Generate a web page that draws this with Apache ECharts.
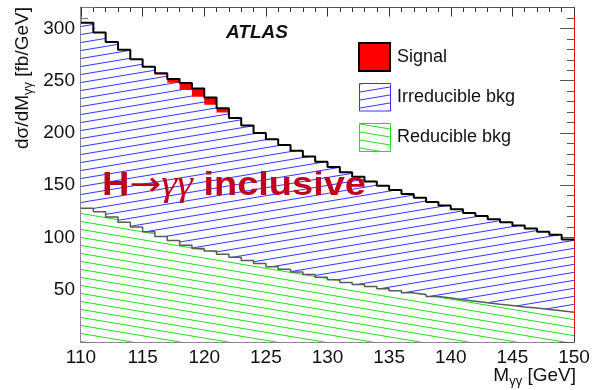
<!DOCTYPE html>
<html>
<head>
<meta charset="utf-8">
<script src="https://cdn.jsdelivr.net/npm/echarts@6/dist/echarts.min.js"></script>
<style>
  html, body { margin: 0; padding: 0; background: #ffffff; }
  #chart { width: 593px; height: 390px; }
</style>
</head>
<body>
<div id="chart"></div>
<script>
// Lower bin edges of the diphoton mass histogram [GeV], 1 GeV bins
const massLow = [110, 111, 112, 113, 114, 115, 116, 117, 118, 119,
                 120, 121, 122, 123, 124, 125, 126, 127, 128, 129,
                 130, 131, 132, 133, 134, 135, 136, 137, 138, 139,
                 140, 141, 142, 143, 144, 145, 146, 147, 148, 149];
const massHigh = 150;

// dsigma/dM per bin [fb/GeV]
const reducibleBkg = [128, 124.5, 119.5, 114.5, 110, 105.5, 101, 97, 92.5, 89.5,
                      87, 84, 81, 78, 75, 72, 69.5, 67, 64.5, 62,
                      59.5, 57, 55, 53, 51, 49, 47, 45.5, 43.5, 42,
                      40.5, 39, 37.5, 36, 35, 33.5, 32.5, 31, 30, 28.5];
const irreducibleBkg = [177.5, 171.5, 167.5, 165, 160.5, 157.5, 155, 151, 148.5, 145,
                        140, 135.5, 132.5, 129, 125, 122, 119, 116, 113, 110.5,
                        108, 105.5, 103, 100.5, 98.5, 96.5, 94.5, 92.5, 90.5, 88.5,
                        86.5, 84.5, 83, 81.5, 79.5, 78, 76, 74.5, 72.5, 69.5];
const signal = [0, 0, 0, 0, 0, 0.3, 1.2, 3.6, 6.7, 8,
                7, 4.2, 0.7, 0, 0, 0, 0, 0, 0, 0,
                0, 0, 0, 0, 0, 0, 0, 0, 0, 0,
                0, 0, 0, 0, 0, 0, 0, 0, 0, 0];

// Axis ticks
const xTicks = [110, 115, 120, 125, 130, 135, 140, 145, 150];
const yTicks = [50, 100, 150, 200, 250, 300];

const FONT = 'Liberation Sans, Arial, sans-serif';

// Stacked sums: reducible, + irreducible, + signal
const bkgSum = reducibleBkg.map((v, i) => v + irreducibleBkg[i]);
const totalSum = bkgSum.map((v, i) => v + signal[i]);

// Histogram as step points: each bin starts at its lower edge, last value held to the upper edge
function histPoints(values) {
  const pts = massLow.map((x, i) => [x, values[i]]);
  pts.push([massHigh, values[values.length - 1]]);
  return pts;
}

// Seamless hatch tile; dir > 0: lines rising to the right, dir < 0: falling
function hatchTile(color, dir) {
  const W = 48, H = 8;
  const c = document.createElement('canvas');
  c.width = W; c.height = H;
  const g = c.getContext('2d');
  g.fillStyle = '#ffffff';
  g.fillRect(0, 0, W, H);
  g.strokeStyle = color;
  g.lineWidth = 1;
  for (let k = -1; k <= 1; k++) {
    g.beginPath();
    if (dir > 0) { g.moveTo(0, H + k * H); g.lineTo(W, k * H); }
    else { g.moveTo(0, k * H); g.lineTo(W, H + k * H); }
    g.stroke();
  }
  return { image: c, repeat: 'repeat' };
}

const blueHatch = hatchTile('#3434ff', 1);
const greenHatch = hatchTile('#22dd22', -1);

const chart = echarts.init(document.getElementById('chart'), null, { renderer: 'canvas' });

const xBase = {
  type: 'value', min: 110, max: 150, interval: 5,
  splitLine: { show: false },
  axisTick: { inside: true, length: 9, lineStyle: { color: '#333', width: 1 } },
  minorTick: { show: true, splitNumber: 5, length: 4.5, lineStyle: { color: '#333', width: 1 } }
};
const yBase = {
  type: 'value', min: 0, max: 320,
  splitLine: { show: false },
  axisLabel: { show: false }
};

function histSeries(name, values, z, lineStyle, areaColor) {
  const s = {
    name: name, type: 'line', step: 'end', xAxisIndex: 0, yAxisIndex: 0, z: z,
    symbol: 'none', data: histPoints(values), lineStyle: lineStyle,
    emphasis: { disabled: true }, silent: true
  };
  if (areaColor) s.areaStyle = { color: areaColor, opacity: 1 };
  return s;
}

chart.setOption({
  animation: false,
  backgroundColor: '#ffffff',
  grid: { left: 81, right: 19, top: 7.5, bottom: 48, containLabel: false, outerBoundsMode: 'none' },
  xAxis: [
    Object.assign({}, xBase, {
      position: 'bottom',
      axisLine: { onZero: false, lineStyle: { color: '#8a8a8a', width: 2 } },
      axisLabel: {
        fontSize: 19, color: '#111', margin: 6, fontFamily: FONT,
        formatter: v => (xTicks.indexOf(v) >= 0 ? String(v) : '')
      }
    }),
    Object.assign({}, xBase, {
      position: 'top',
      axisLine: { onZero: false, lineStyle: { color: '#555', width: 1 } },
      axisLabel: { show: false }
    })
  ],
  yAxis: [
    Object.assign({}, yBase, {
      position: 'left', interval: 50,
      axisLine: { onZero: false, show: true, lineStyle: { color: '#8a8a8a', width: 2 } },
      axisTick: { inside: true, length: 14, lineStyle: { color: '#777', width: 1 } },
      axisLabel: {
        show: true, fontSize: 19, color: '#111', margin: 6, fontFamily: FONT,
        formatter: v => (yTicks.indexOf(v) >= 0 ? String(v) : '')
      }
    }),
    Object.assign({}, yBase, {
      position: 'left', interval: 10,
      axisLine: { show: false },
      axisTick: { inside: true, length: 7, lineStyle: { color: '#777', width: 1 } }
    }),
    Object.assign({}, yBase, {
      position: 'right', interval: 50,
      axisLine: { onZero: false, show: true, lineStyle: { color: '#e81010', width: 1 } },
      axisTick: { inside: true, length: 14, lineStyle: { color: '#555', width: 1 } }
    }),
    Object.assign({}, yBase, {
      position: 'right', interval: 10,
      axisLine: { show: false },
      axisTick: { inside: true, length: 7, lineStyle: { color: '#555', width: 1 } }
    })
  ],
  series: [
    // drawn back to front: signal on top of the background sum, then irreducible, then reducible
    histSeries('Signal', totalSum, 2, { width: 0, opacity: 0 }, '#ff0000'),
    histSeries('Irreducible bkg', bkgSum, 3, { width: 0, opacity: 0 }, blueHatch),
    histSeries('Reducible bkg', reducibleBkg, 4, { color: '#5a5a5a', width: 1.5 }, greenHatch),
    // outline of the full stack
    histSeries('Total', totalSum, 6, { color: '#000000', width: 2 }, null)
  ],
  graphic: [
    // y-axis title
    {
      type: 'text', x: 23, y: 7, rotation: Math.PI / 2, z: 100,
      style: {
        text: 'dσ/dM{sub|γγ} [fb/GeV]',
        align: 'right', verticalAlign: 'middle',
        font: '19px ' + FONT, fill: '#111',
        rich: { sub: { fontSize: 13, fontFamily: FONT, verticalAlign: 'bottom', lineHeight: 24, fill: '#111' } }
      }
    },
    // x-axis title
    {
      type: 'text', x: 576, y: 376, z: 100,
      style: {
        text: 'M{sub|γγ} [GeV]',
        align: 'right', verticalAlign: 'middle',
        font: '19px ' + FONT, fill: '#111',
        rich: { sub: { fontSize: 13, fontFamily: FONT, verticalAlign: 'bottom', lineHeight: 24, fill: '#111' } }
      }
    },
    // experiment label
    {
      type: 'text', x: 226, y: 33, z: 100,
      style: { text: 'ATLAS', align: 'left', verticalAlign: 'middle', font: 'italic bold 19px ' + FONT, fill: '#111' }
    },
    // legend
    { type: 'rect', shape: { x: 359, y: 43, width: 31, height: 28 }, z: 100,
      style: { fill: '#ff0000', stroke: '#000', lineWidth: 2 } },
    { type: 'rect', shape: { x: 359.5, y: 83.5, width: 31, height: 27.5 }, z: 100,
      style: { fill: blueHatch, stroke: '#3434ff', lineWidth: 1 } },
    { type: 'rect', shape: { x: 359.5, y: 123.5, width: 31, height: 28 }, z: 100,
      style: { fill: greenHatch, stroke: '#22dd22', lineWidth: 1 } },
    { type: 'text', x: 397, y: 57, z: 100,
      style: { text: 'Signal', verticalAlign: 'middle', font: '18px ' + FONT, fill: '#111' } },
    { type: 'text', x: 397, y: 97, z: 100,
      style: { text: 'Irreducible bkg', verticalAlign: 'middle', font: '18px ' + FONT, fill: '#111' } },
    { type: 'text', x: 397, y: 137, z: 100,
      style: { text: 'Reducible bkg', verticalAlign: 'middle', font: '18px ' + FONT, fill: '#111' } },
    // channel label
    {
      type: 'text', x: 102, y: 186, z: 100, scaleX: 1.15,
      style: {
        text: '{h|H}{a|→}{g|γγ}{t| inclusive}',
        verticalAlign: 'middle', fill: '#c0001a',
        rich: {
          h: { fontSize: 33, fontWeight: 'bold', fontFamily: FONT, fill: '#c0001a' },
          a: { fontSize: 33, fontFamily: 'DejaVu Sans', fill: '#c0001a' },
          g: { fontSize: 35, fontStyle: 'italic', fontFamily: 'Liberation Serif', fill: '#c0001a' },
          t: { fontSize: 33, fontWeight: 'bold', fontFamily: FONT, fill: '#c0001a' }
        }
      }
    }
  ]
});
</script>
</body>
</html>
